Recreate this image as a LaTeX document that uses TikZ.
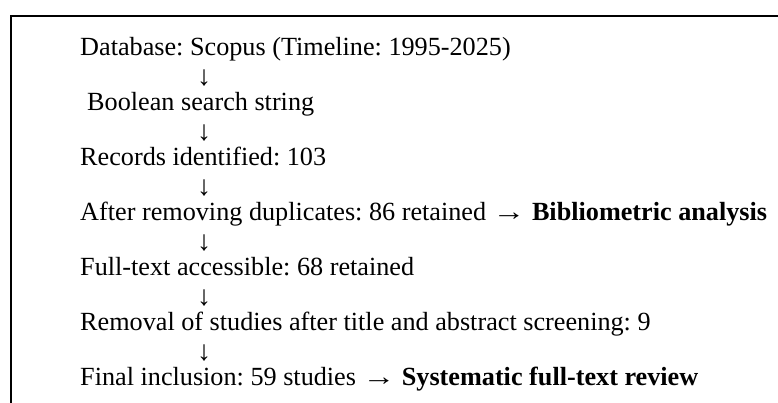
\documentclass[tikz,border=0pt]{standalone}
\usepackage{fontspec}
\setmainfont{Liberation Serif}
\usepackage{graphicx}
\usepackage{tikz}
\frenchspacing

\newcommand{\longto}{\scalebox{1.25}[1]{→}}

\tikzset{
    steptext/.style={anchor=base west, inner sep=0pt, font=\fontsize{26.2}{28}\selectfont},
    downglyph/.style={anchor=base, inner sep=0pt, text height=19pt, text depth=-3pt,
        font=\fontsize{28}{30}\selectfont}
}

\begin{document}
\begin{tikzpicture}[x=1pt,y=1pt]
    \useasboundingbox (0,0) rectangle (778,403);
    % Frame (top and left edge)
    \draw[line width=2pt] (778,387) -- (11,387) -- (11,0);
    % Steps
    \node[steptext] (db) at (80,347) {Database: Scopus (Timeline: 1995-2025)};
    \node[steptext] (bool) at (87,292) {Boolean search string};
    \node[steptext] (rec) at (80,237) {Records identified: 103};
    \node[steptext] (dup) at (80,182) {After removing duplicates: 86 retained \longto{} \textbf{Bibliometric analysis}};
    \node[steptext] (full) at (80,127) {Full-text accessible: 68 retained};
    \node[steptext] (screen) at (80,72) {Removal of studies after title and abstract screening: 9};
    \node[steptext] (final) at (80,17) {Final inclusion: 59 studies \longto{} \textbf{Systematic full-text review}};
    % Arrows between the steps
    \foreach \i in {1,...,6} {%
        \node[downglyph] (arr\i) at (204,{347-55*\i+25}) {↓};
    }
\end{tikzpicture}
\end{document}
